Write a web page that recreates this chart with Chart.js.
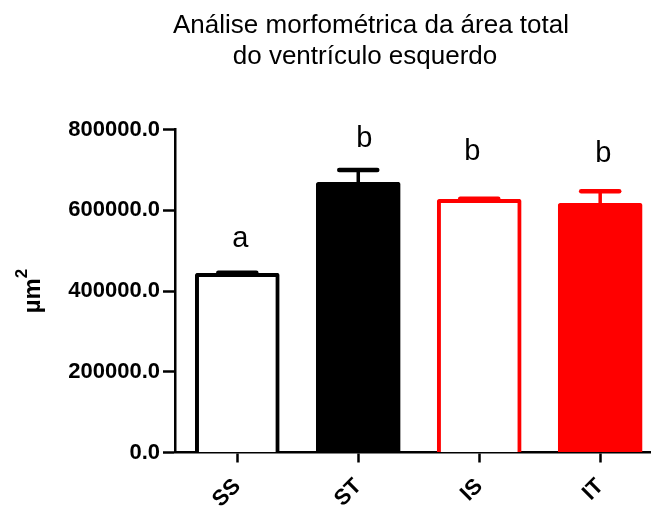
<!DOCTYPE html>
<html>
<head>
<meta charset="utf-8">
<script src="https://cdn.jsdelivr.net/npm/chart.js@4/dist/chart.umd.min.js"></script>
<style>
  html, body { margin: 0; padding: 0; background: #fff; overflow: hidden; }
  #wrap { width: 651px; height: 507px; }
</style>
</head>
<body>
<div id="wrap"><canvas id="lvChart" width="651" height="507"></canvas></div>
<script>
const categories = ['SS', 'ST', 'IS', 'IT'];
const meanArea = [444000, 669000, 627000, 617000];
const semArea = [1500, 31000, 1500, 30000];
const groupLetters = ['a', 'b', 'b', 'b'];
const yTicks = [0, 200000, 400000, 600000, 800000];
const titleLines = ['Análise morfométrica da área total', 'do ventrículo esquerdo'];

const FONT = "'Liberation Sans', Arial, sans-serif";
const fillColors = ['#ffffff', '#000000', '#ffffff', '#ff0000'];
const lineColors = ['#000000', '#000000', '#ff0000', '#ff0000'];

// error bars (mean + SEM, upper side only) and the group letters above them
const errorBars = {
  id: 'errorBars',
  afterDatasetsDraw(chart, args, opts) {
    const ctx = chart.ctx;
    const y = chart.scales.y;
    const meta = chart.getDatasetMeta(0);
    meta.data.forEach((bar, i) => {
      const top = y.getPixelForValue(meanArea[i]);
      const tip = y.getPixelForValue(meanArea[i] + semArea[i]);
      ctx.save();
      ctx.strokeStyle = lineColors[i];
      ctx.lineCap = 'round';
      ctx.lineWidth = 3.5;
      ctx.beginPath();
      ctx.moveTo(bar.x, top);
      ctx.lineTo(bar.x, tip);
      ctx.stroke();
      ctx.lineWidth = 4.5;
      ctx.beginPath();
      ctx.moveTo(bar.x - 19, tip);
      ctx.lineTo(bar.x + 19, tip);
      ctx.stroke();

      const off = opts.letterOffsets[i];
      ctx.fillStyle = '#000';
      ctx.font = '29px ' + FONT;
      ctx.textAlign = 'center';
      ctx.textBaseline = 'alphabetic';
      ctx.fillText(groupLetters[i], bar.x + off[0], tip - off[1]);
      ctx.restore();
    });
  }
};

// two-line title and the rotated "µm²" axis title
const decorations = {
  id: 'decorations',
  afterDraw(chart) {
    const ctx = chart.ctx;
    const area = chart.chartArea;
    ctx.save();
    ctx.fillStyle = '#000';
    ctx.font = '26px ' + FONT;
    ctx.textAlign = 'center';
    ctx.textBaseline = 'alphabetic';
    ctx.fillText(titleLines[0], 371, 33);
    ctx.fillText(titleLines[1], 365, 64);

    const midY = (area.top + area.bottom) / 2;
    ctx.translate(40, midY);
    ctx.rotate(-Math.PI / 2);
    ctx.textAlign = 'left';
    ctx.font = 'bold 24px ' + FONT;
    const mainW = ctx.measureText('µm').width;
    ctx.font = 'bold 17px ' + FONT;
    const supW = ctx.measureText('2').width;
    const start = -(mainW + supW) / 2;
    ctx.font = 'bold 24px ' + FONT;
    ctx.fillText('µm', start, 0);
    ctx.font = 'bold 17px ' + FONT;
    ctx.fillText('2', start + mainW, -13);
    ctx.restore();
  }
};

new Chart(document.getElementById('lvChart'), {
  type: 'bar',
  data: {
    datasets: [{
      data: meanArea.map((v, i) => ({ x: i, y: v })),
      backgroundColor: fillColors,
      borderColor: lineColors,
      borderWidth: 4,
      borderRadius: 2,
      barThickness: 84
    }]
  },
  options: {
    responsive: false,
    animation: false,
    layout: { padding: { top: 129.5, left: 0, right: 0, bottom: 0 } },
    plugins: {
      legend: { display: false },
      tooltip: { enabled: false },
      errorBars: { letterOffsets: [[3, 26], [6, 23], [-7, 39], [3, 29]] }
    },
    scales: {
      x: {
        type: 'linear',
        offset: false,
        min: -0.515,
        max: 3.42,
        afterBuildTicks: (scale) => { scale.ticks = categories.map((c, i) => ({ value: i })); },
        afterFit: (scale) => { scale.height = 54.5; },
        grid: { offset: false, drawOnChartArea: false, color: '#000', tickLength: 10, tickWidth: 2.5 },
        border: { color: '#000', width: 2.5 },
        ticks: {
          autoSkip: false,
          minRotation: 45,
          maxRotation: 45,
          padding: 11,
          color: '#000',
          font: { family: FONT, size: 22, weight: 'bold' },
          callback: (v) => categories[v]
        }
      },
      y: {
        min: yTicks[0],
        max: yTicks[yTicks.length - 1],
        afterBuildTicks: (scale) => { scale.ticks = yTicks.map(v => ({ value: v })); },
        afterFit: (scale) => { scale.width = 175; },
        grid: { drawOnChartArea: false, color: '#000', tickLength: 12, tickWidth: 2.5 },
        border: { color: '#000', width: 2.5 },
        ticks: {
          padding: 3,
          color: '#000',
          font: { family: FONT, size: 22, weight: 'bold' },
          callback: (v) => v.toFixed(1)
        }
      }
    }
  },
  plugins: [errorBars, decorations]
});
</script>
</body>
</html>
